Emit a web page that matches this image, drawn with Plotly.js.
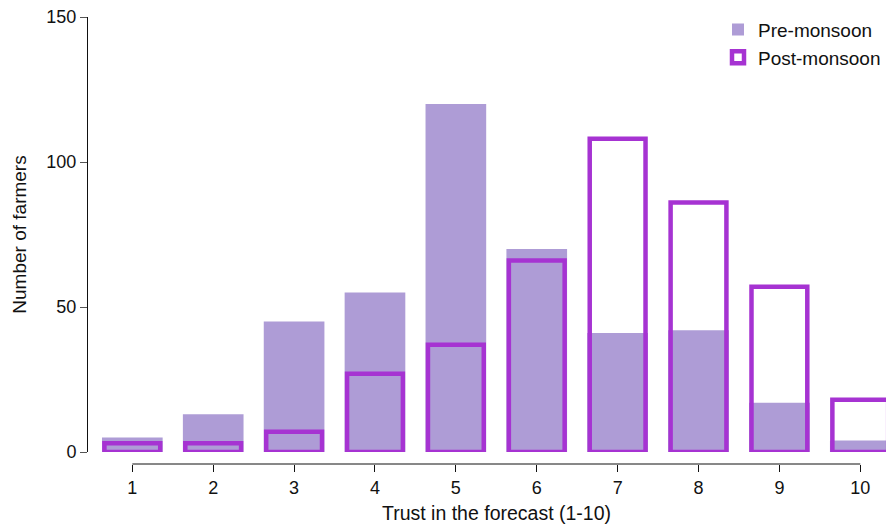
<!DOCTYPE html>
<html>
<head>
<meta charset="utf-8">
<script src="https://cdn.plot.ly/plotly-3.0.1.min.js"></script>
<style>
  html, body { margin: 0; padding: 0; background: #fff; }
  #chart { width: 886px; height: 527px; }
</style>
</head>
<body>
<div id="chart"></div>
<script>
// ---- data ----
const trustLevels = [1, 2, 3, 4, 5, 6, 7, 8, 9, 10];
const tickLabels = ["1", "2", "3", "4", "5", "6", "7", "8", "9", "10"];
const preMonsoon = [5, 13, 45, 55, 120, 70, 41, 42, 17, 4];
const postMonsoon = [3, 3, 7, 27, 37, 66, 108, 86, 57, 18];
const yTicks = [0, 50, 100, 150];

const FONT = "Liberation Sans, Arial, Helvetica, sans-serif";
const preColor = "rgb(174,156,214)";
const postColor = "rgb(166,51,210)";

const traces = [
  {
    type: "bar",
    name: "Pre-monsoon",
    x: trustLevels,
    y: preMonsoon,
    width: 0.75,
    marker: { color: preColor, line: { width: 0 } },
    hoverinfo: "x+y+name"
  },
  {
    type: "bar",
    name: "Post-monsoon",
    x: trustLevels,
    y: postMonsoon,
    width: 0.69,
    cliponaxis: false,
    marker: { color: "rgba(0,0,0,0)", line: { color: postColor, width: 4.5 } },
    hoverinfo: "x+y+name"
  }
];

const layout = {
  width: 886,
  height: 527,
  margin: { l: 88, r: 0, t: 17, b: 63 },
  paper_bgcolor: "#ffffff",
  plot_bgcolor: "#ffffff",
  barmode: "overlay",
  font: { family: FONT, size: 18, color: "#111" },
  showlegend: true,
  legend: {
    x: 1, xanchor: "right",
    y: 1.014, yanchor: "top",
    font: { family: FONT, size: 19, color: "#111" },
    bgcolor: "rgba(0,0,0,0)",
    tracegroupgap: 0
  },
  xaxis: {
    anchor: "free",
    position: 0,
    range: [0.452, 10.318],
    tickmode: "array",
    tickvals: trustLevels,
    ticktext: tickLabels,
    ticks: "outside",
    ticklen: 7,
    tickwidth: 1,
    tickcolor: "#111",
    showline: false,
    showgrid: false,
    zeroline: false,
    tickfont: { family: FONT, size: 18, color: "#111" },
    fixedrange: true
  },
  yaxis: {
    domain: [12 / 447, 1],
    range: [0, 150],
    tickmode: "array",
    tickvals: yTicks,
    ticks: "outside",
    ticklen: 7,
    tickwidth: 1,
    tickcolor: "#555",
    showline: true,
    linecolor: "#111",
    linewidth: 1,
    showgrid: false,
    zeroline: false,
    tickfont: { family: FONT, size: 18, color: "#111" },
    title: { text: "Number of farmers", font: { family: FONT, size: 19, color: "#111" }, standoff: 14 },
    fixedrange: true
  },
  shapes: [
    {
      type: "line",
      xref: "x", yref: "paper",
      x0: trustLevels[0], x1: trustLevels[trustLevels.length - 1],
      y0: 0, y1: 0,
      line: { color: "#111", width: 1 }
    }
  ],
  annotations: [
    {
      text: "Trust in the forecast (1-10)",
      xref: "x", yref: "paper",
      x: (trustLevels[0] + trustLevels[trustLevels.length - 1]) / 2,
      y: -0.11,
      xanchor: "center", yanchor: "middle",
      showarrow: false,
      font: { family: FONT, size: 19.5, color: "#111" }
    }
  ]
};

Plotly.newPlot("chart", traces, layout, { displayModeBar: false, staticPlot: true });
</script>
</body>
</html>
